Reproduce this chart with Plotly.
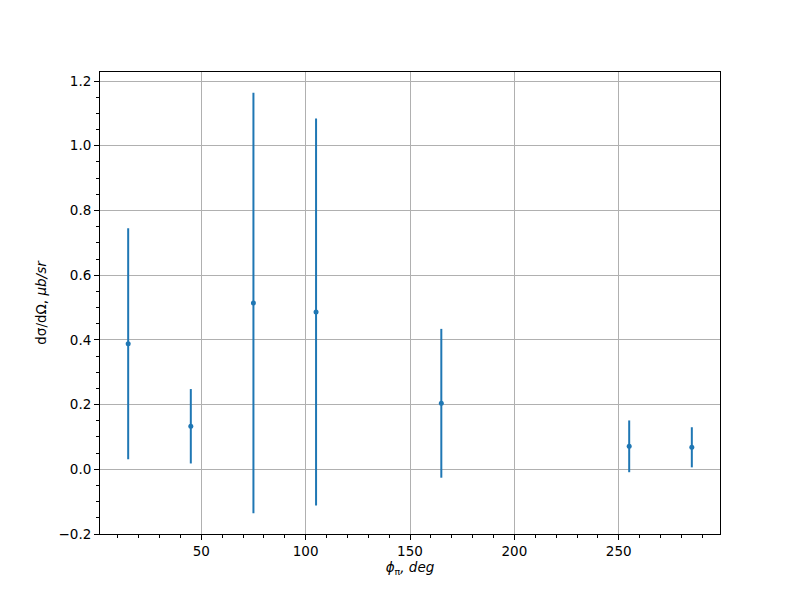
import plotly.graph_objects as go

phi = [15, 45, 75, 105, 165, 255, 285]
xsec = [0.388, 0.133, 0.514, 0.486, 0.204, 0.071, 0.068]
err = [0.357, 0.115, 0.650, 0.598, 0.230, 0.080, 0.062]

color = "#1f77b4"
font = "DejaVu Sans, sans-serif"

fig = go.Figure()
fig.add_trace(go.Scatter(
    x=phi, y=xsec, mode="markers",
    marker=dict(color=color, size=5),
    error_y=dict(type="data", array=err, visible=True, width=0, thickness=2, color=color),
    showlegend=False,
))

axis_common = dict(
    showline=True, linecolor="black", linewidth=1, mirror=True,
    showgrid=True, gridcolor="#b0b0b0", gridwidth=1,
    ticks="outside", ticklen=5, tickwidth=1, tickcolor="black",
    zeroline=False, automargin=False,
    tickfont=dict(family=font, size=13.5, color="black"),
)

fig.update_layout(
    width=800, height=600,
    margin=dict(l=92, r=88, t=64, b=74),
    paper_bgcolor="white", plot_bgcolor="white",
    font=dict(family=font, size=13.5, color="black"),
    xaxis=dict(
        range=[1.5, 298.5], tick0=0, dtick=50,
        minor=dict(ticks="outside", ticklen=3, dtick=10, tick0=0, tickcolor="black", showgrid=False),
        title=dict(text="<i>ϕ</i><sub>π</sub><i>, deg</i>", font=dict(family=font, size=13.5), standoff=4),
        **axis_common,
    ),
    yaxis=dict(
        range=[-0.2, 1.228], tick0=0, dtick=0.2, tickformat=".1f",
        minor=dict(ticks="outside", ticklen=3, dtick=0.05, tick0=0, tickcolor="black", showgrid=False),
        title=dict(text="dσ/dΩ, <i>μb/sr</i>", font=dict(family=font, size=13.5), standoff=8),
        **axis_common,
    ),
)

fig.write_html("out.html")
